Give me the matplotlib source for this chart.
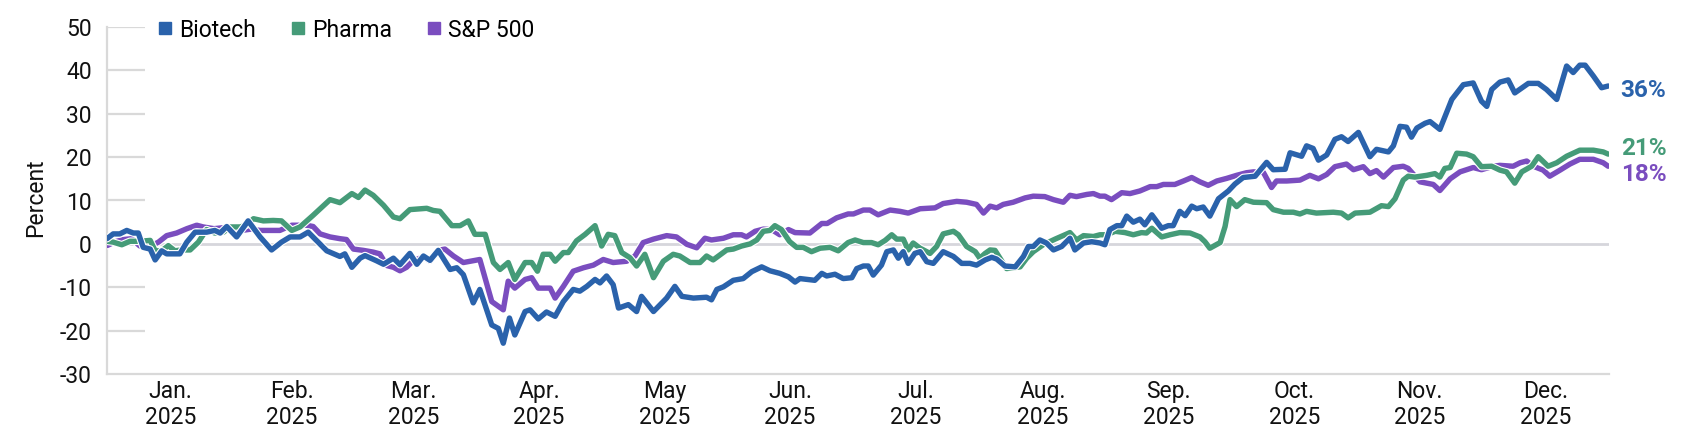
import matplotlib
matplotlib.use("Agg")
import matplotlib.pyplot as plt
import matplotlib.patheffects as pe
from matplotlib.lines import Line2D
import numpy as np
import pandas as pd

plt.rcParams['font.family'] = ['Roboto', 'DejaVu Sans']
plt.rcParams['axes.unicode_minus'] = False

# ---------------- data (day offsets from 2025-01-01, cumulative % return) -------------
bio_days = [0, 1.5, 3.1, 4.8, 6.4, 7.6, 8.8, 10.5, 11.7, 13.3, 14.5, 17.7, 19.4, 21.4, 24.2, 26.2,
            27.5, 29.1, 31.5, 34.3, 37.2, 40.0, 42.4, 44.5, 46.9, 48.9, 50.9, 53.4, 56.6, 57.8,
            59.5, 61.5, 62.7, 65.5, 67.2, 69.6, 71.2, 73.6, 75.3, 76.9, 78.5, 80.5, 83.4, 85.0,
            86.6, 89.0, 90.6, 93.5, 95.1, 96.3, 97.8, 99.1, 101.6, 102.8, 104.8, 106.8, 108.9,
            110.9, 113.3, 114.9, 116.6, 118.6, 119.8, 121.4, 123.0, 124.3, 126.7, 128.7, 129.9,
            132.8, 136.0, 138.0, 139.7, 142.5, 145.7, 146.9, 148.2, 149.8, 152.2, 154.6, 156.7,
            159.1, 161.1, 163.5, 165.6, 167.2, 168.4, 172.0, 173.7, 174.9, 176.9, 178.9, 181.0,
            182.2, 183.8, 185.0, 186.2, 188.2, 189.5, 191.1, 192.3, 193.5, 194.7, 196.3, 197.6,
            199.2, 200.8, 203.2, 205.7, 207.7, 209.7, 211.3, 213.4, 215.0, 216.2, 218.2, 220.7,
            222.7, 223.9, 225.1, 226.7, 228.3, 230.0, 232.0, 234.0, 235.2, 237.3, 239.3, 241.3,
            242.5, 243.7, 245.4, 246.6, 247.8, 249.4, 251.0, 252.2, 253.9, 256.3, 257.9, 259.1,
            260.7, 262.0, 263.6, 264.8, 266.4, 268.0, 270.1, 272.5, 274.1, 276.1, 279.0, 281.8,
            283.4, 286.3, 287.5, 290.3, 291.5, 293.1, 294.4, 296.4, 298.4, 300.0, 301.6, 304.1,
            306.9, 308.5, 311.4, 312.6, 314.2, 315.8, 317.0, 318.3, 320.3, 321.5, 323.9, 326.8,
            329.6, 332.0, 334.0, 335.3, 336.5, 338.5, 340.5, 342.1, 345.4, 347.8, 349.8, 352.3,
            354.7, 356.3, 357.9, 359.2, 361.2, 363.2, 364.8]
bio_vals = [1.2, 2.3, 2.3, 3.1, 2.5, 2.5, -0.8, -1.2, -3.7, -1.6, -2.3, -2.3, 0.4, 2.7, 2.7, 3.1,
            2.5, 4.0, 1.6, 5.3, 1.6, -1.4, 0.4, 1.6, 1.6, 2.7, 0.8, -1.6, -2.9, -2.3,
            -5.4, -3.3, -2.7, -3.9, -4.7, -3.3, -4.8, -2.2, -4.7, -2.8, -3.8, -1.5, -5.9, -5.5,
            -7.1, -13.6, -10.5, -18.7, -19.5, -22.9, -17.1, -21.0, -15.6, -15.2, -17.3, -15.7, -16.7,
            -13.3, -10.5, -10.9, -9.8, -8.2, -9.0, -7.4, -9.4, -14.8, -14.0, -15.6, -12.1,
            -15.6, -12.5, -9.8, -12.1, -12.5, -12.3, -12.9, -10.5, -9.9, -8.4, -8.0, -6.4,
            -5.3, -6.2, -6.8, -7.6, -8.8, -8.0, -8.4, -6.8, -7.4, -7.0, -8.0, -7.8,
            -5.7, -5.1, -5.1, -7.2, -4.9, -1.8, -1.4, -3.3, -1.8, -4.5, -2.2, -1.8,
            -4.1, -4.5, -1.8, -2.9, -4.5, -4.5, -4.9, -3.7, -3.1, -3.5, -5.1, -5.3,
            -2.9, -0.6, -0.6, 0.9, 0.2, -1.4, -0.6, 1.3, -1.4, 0.2, 0.5, 0.2,
            -0.2, 3.3, 4.2, 4.2, 6.4, 5.0, 5.7, 4.4, 6.7, 3.6, 4.2, 4.2,
            7.5, 6.5, 8.7, 8.1, 8.5, 6.4, 10.4, 12.2, 13.8, 15.3, 15.6, 18.8,
            17.1, 17.2, 21.0, 20.2, 22.6, 22.0, 19.3, 20.5, 24.1, 24.7, 23.6, 25.7,
            20.1, 21.8, 21.2, 22.6, 27.1, 26.9, 24.6, 26.7, 27.8, 28.2, 26.4, 33.3,
            36.7, 37.1, 32.9, 31.7, 35.6, 37.3, 37.8, 34.8, 37.0, 37.0, 35.6, 33.3,
            41.0, 39.5, 41.2, 41.2, 38.7, 36.0, 36.4]

pha_days = [0, 1.5, 3.6, 5.6, 8.0, 10.5, 11.7, 13.3, 14.9, 16.5, 18.1, 20.2, 22.2, 24.2, 26.2,
            28.3, 29.9, 32.3, 33.9, 35.6, 38.0, 40.4, 42.4, 44.9, 46.9, 50.1, 54.2, 56.6, 59.5,
            61.1, 62.7, 64.7, 67.2, 69.6, 71.2, 73.6, 77.7, 79.3, 80.9, 83.8, 85.8, 87.8, 89.4,
            91.9, 93.9, 95.5, 97.5, 99.1, 101.6, 103.2, 104.6, 106.0, 107.7, 108.9, 110.9, 112.1,
            114.1, 116.2, 118.6, 120.2, 121.8, 123.4, 125.1, 127.1, 128.7, 130.7, 132.8, 135.2,
            137.6, 139.2, 141.7, 144.1, 145.7, 147.3, 150.6, 152.2, 154.2, 156.3, 157.9, 159.5,
            161.1, 162.3, 163.9, 165.9, 167.6, 169.2, 171.2, 173.3, 175.7, 177.7, 180.1, 181.8,
            183.8, 185.8, 187.4, 189.1, 190.7, 191.9, 193.5, 194.7, 195.9, 197.6, 200.0, 201.6,
            203.2, 205.7, 206.9, 208.9, 211.0, 212.1, 213.4, 214.6, 215.8, 217.0, 218.6, 221.9,
            223.5, 225.1, 227.5, 230.4, 234.0, 235.6, 237.3, 239.7, 241.3, 242.9, 245.0, 247.4,
            249.4, 251.4, 252.6, 253.9, 256.3, 258.3, 260.7, 263.2, 265.6, 266.8, 268.0, 270.5,
            271.7, 272.9, 274.5, 276.5, 278.6, 281.8, 283.4, 285.9, 288.3, 289.9, 291.5, 293.9,
            298.0, 300.0, 301.6, 303.3, 306.9, 309.7, 311.4, 313.0, 315.0, 316.2, 317.8, 320.7,
            322.7, 323.9, 325.1, 326.4, 328.0, 330.4, 332.0, 334.0, 336.5, 338.5, 340.1, 342.1,
            343.8, 346.2, 347.8, 350.2, 352.3, 354.7, 357.9, 361.2, 363.6, 364.8]
pha_vals = [0.6, 0.4, -0.2, 0.6, 0.6, 0.8, -1.6, -1.6, -0.4, -1.6, -1.4, -1.4, 0.4, 3.3, 2.5,
            2.7, 3.9, 3.9, 4.3, 5.8, 5.3, 5.4, 5.3, 3.1, 3.9, 6.6, 10.2, 9.5, 11.6,
            10.7, 12.4, 11.2, 8.9, 6.2, 5.8, 7.9, 8.2, 7.7, 7.5, 4.2, 4.2, 5.3, 2.2,
            2.2, -4.3, -5.9, -4.3, -8.2, -4.3, -4.3, -6.3, -2.4, -2.4, -4.0, -2.0, -2.0,
            0.7, 2.2, 4.2, -0.5, 2.2, 1.9, -2.0, -3.2, -5.1, -2.4, -7.8, -4.0,
            -2.4, -2.8, -4.3, -4.3, -2.8, -3.7, -1.4, -1.2, -0.5, 0.0, 0.9, 2.9,
            3.1, 4.2, 3.3, 0.5, -0.8, -0.8, -1.8, -1.0, -0.8, -1.6, 0.3, 0.9,
            0.3, 0.3, -0.2, 0.8, 2.1, 1.1, 1.1, -1.4, 0.2, -1.0, -2.2, -0.6,
            2.3, 2.9, 2.1, -0.6, -1.8, -3.3, -2.2, -1.4, -1.5, -3.3, -5.7, -5.3,
            -3.3, -1.8, -0.2, 1.1, 2.6, 0.9, 1.9, 1.7, 2.1, 2.1, 2.9, 2.6,
            2.1, 2.6, 2.5, 3.6, 1.6, 2.1, 2.6, 2.5, 1.6, 0.5, -1.0, 0.3,
            4.0, 10.2, 8.6, 10.2, 9.6, 9.5, 7.9, 7.3, 7.3, 6.9, 7.5, 7.1,
            7.3, 7.1, 6.0, 7.1, 7.3, 8.8, 8.6, 10.4, 14.7, 15.6, 15.4, 15.8,
            16.2, 15.4, 17.4, 17.6, 20.9, 20.7, 20.1, 17.8, 17.9, 17.0, 16.6, 14.0,
            16.6, 17.9, 20.1, 17.9, 18.7, 20.2, 21.6, 21.6, 21.2, 20.7]

spx_days = [0, 2, 4, 6, 8, 10, 12.5, 14.5, 16.9, 19.4, 21.8, 23.4, 26, 29, 32, 35, 37.2, 42.0,
            44.9, 48.5, 50.1, 51.8, 54.2, 56.6, 58.2, 59.9, 62.3, 64.7, 66.3, 68.0, 69.6, 71.2,
            72.8, 74.4, 76.9, 78.5, 80.5, 82.1, 84.2, 86.6, 90.6, 93.5, 96.3, 97.5, 99.1, 101.6,
            103.2, 104.8, 107.7, 108.9, 110.9, 113.3, 115.8, 118.2, 120.6, 123.0, 126.3, 128.3,
            130.3, 132.8, 136.0, 138.4, 140.9, 143.3, 145.3, 146.9, 149.8, 152.2, 154.2, 155.4,
            157.5, 159.5, 161.5, 163.5, 165.6, 167.2, 170.8, 173.7, 175.0, 177.3, 180.1, 181.4,
            183.8, 185.4, 187.4, 190.3, 192.7, 194.7, 197.6, 201.2, 203.2, 206.5, 208.9, 211.3,
            213.0, 214.6, 216.2, 217.8, 220.2, 223.1, 225.1, 227.9, 230.0, 232.4, 234.0, 235.6,
            238.1, 239.7, 241.3, 242.5, 244.1, 246.6, 248.6, 251.0, 253.5, 255.1, 256.7, 259.5,
            261.6, 263.6, 265.6, 267.6, 269.7, 272.1, 274.5, 276.9, 278.6, 281.0, 283.0, 284.2,
            286.7, 289.9, 292.3, 294.4, 296.4, 298.4, 301.2, 302.9, 305.3, 306.9, 308.5, 310.2,
            312.6, 315.0, 316.2, 319.1, 322.3, 323.9, 326.4, 328.8, 332.0, 334.0, 336.9, 338.5,
            341.7, 343.4, 345.0, 346.6, 349.0, 350.6, 353.1, 355.5, 357.9, 361.2, 363.6, 364.8]
spx_vals = [-0.4, 0.5, 1.0, 1.2, -0.5, -0.8, 0.4, 1.9, 2.5, 3.5, 4.3, 3.9, 3.5, 3.8, 3.0, 3.4, 3.1, 3.1,
            4.3, 4.3, 4.0, 2.3, 1.6, 1.2, 1.0, -1.2, -1.5, -1.9, -2.3, -5.0, -5.4, -6.2,
            -5.4, -3.9, -3.0, -4.0, -1.5, -1.2, -2.8, -4.3, -3.6, -13.3, -15.2, -8.6, -10.2, -8.2,
            -7.8, -10.2, -10.2, -12.5, -9.8, -6.3, -5.5, -4.9, -3.6, -4.3, -4.0, -2.8,
            0.3, 1.1, 1.9, 1.6, -0.1, -0.9, 1.3, 0.9, 1.3, 2.1, 2.1, 1.6,
            2.9, 3.4, 3.3, 2.1, 3.3, 2.6, 2.5, 4.7, 4.7, 6.0, 6.9, 6.9,
            7.8, 7.8, 6.7, 7.8, 7.5, 7.1, 8.1, 8.3, 9.3, 9.8, 9.6, 9.1,
            7.1, 8.7, 8.3, 9.1, 9.6, 10.6, 11.0, 10.9, 10.2, 9.6, 11.2, 10.9,
            11.4, 11.6, 11.0, 11.0, 10.2, 11.8, 11.6, 12.2, 13.2, 13.2, 13.7, 13.7,
            14.5, 15.3, 14.3, 13.5, 14.5, 15.1, 15.8, 16.4, 16.6, 16.5, 13.0, 14.5,
            14.5, 14.7, 15.8, 15.0, 16.0, 17.8, 18.4, 17.1, 17.8, 16.2, 16.9, 15.4,
            17.6, 17.9, 17.4, 14.3, 13.7, 12.3, 15.0, 16.6, 17.6, 17.1, 17.9, 18.1,
            17.9, 18.7, 19.1, 17.9, 17.0, 15.6, 17.0, 18.4, 19.5, 19.5, 18.7, 17.9]

series_names = ["Biotech", "Pharma", "S&P 500"]
series_colors = ["#2a62ab", "#459b78", "#7a4dbf"]
month_labels = ["Jan.", "Feb.", "Mar.", "Apr.", "May", "Jun.", "Jul.", "Aug.",
                "Sep.", "Oct.", "Nov.", "Dec."]
year_label = "2025"
y_ticks = [-30, -20, -10, 0, 10, 20, 30, 40, 50]

# ---------------- figure ----------------
W, H, DPI = 1705, 444, 100
fig = plt.figure(figsize=(W / DPI, H / DPI), dpi=DPI)
ax = fig.add_axes([107 / W, 1 - 374 / H, (1609 - 107) / W, (374 - 27) / H])

base = pd.Timestamp("2025-01-01")
to_dates = lambda d: base + pd.to_timedelta(np.asarray(d, dtype=float), unit="D")

data = [(bio_days, bio_vals), (pha_days, pha_vals), (spx_days, spx_vals)]
zorders = [5, 4, 3]
lw = 3.9
for (d, v), c, z in zip(data, series_colors, zorders):
    ax.plot(to_dates(d), v, color=c, lw=lw, zorder=z, solid_joinstyle="round",
            solid_capstyle="round",
            path_effects=[pe.Stroke(linewidth=lw + 1.6, foreground="white"), pe.Normal()])

# end labels
label_offsets = [-3, 4, -6]
for (d, v), c, off in zip(data, series_colors, label_offsets):
    ax.annotate(f"{round(v[-1])}%", xy=(to_dates([d[-1]])[0], v[-1]),
                xytext=(9, off), textcoords="offset points", color=c,
                fontsize=17.5, fontweight="bold", va="center", ha="left",
                annotation_clip=False)

# axes styling
ax.set_xlim(base, base + pd.Timedelta(days=365))
ax.set_ylim(-30, 50)
ax.set_yticks(y_ticks)
ax.set_yticklabels([str(t) for t in y_ticks])

month_starts = pd.date_range("2025-01-01", periods=13, freq="MS")
mids = month_starts[:-1] + (month_starts[1:] - month_starts[:-1]) / 2
ax.set_xticks(mids)
ax.set_xticklabels([f"{m}\n{year_label}" for m in month_labels])

ax.tick_params(axis="both", length=0, labelsize=16.5, colors="#111111")
ax.tick_params(axis="y", pad=11)
ax.tick_params(axis="x", pad=4)

for s in ["top", "right"]:
    ax.spines[s].set_visible(False)
for s in ["left", "bottom"]:
    ax.spines[s].set_color("#d9d9d9")
    ax.spines[s].set_linewidth(1.6)

# short gridline stubs and the full zero line
ytr = ax.get_yaxis_transform()
stub_ticks = [t for t in y_ticks if t not in (0, -30)]
ax.hlines(stub_ticks, 0, 38 / 1502, transform=ytr, color="#d9d9d9", lw=1.6, zorder=1)
ax.axhline(0, color="#d6d6dc", lw=2.0, zorder=1)

fig.text(36 / W, 1 - 198 / H, "Percent", rotation=90, va="center", ha="center",
         fontsize=16.5, color="#111111")

handles = [Line2D([], [], ls="none", marker="s", markersize=8.5, color=c) for c in series_colors]
ax.legend(handles, series_names, loc="center left", bbox_to_anchor=(51.5 / 1502, 1 - 3 / 347),
          ncol=3, frameon=False, fontsize=16.5, handlelength=0.6, handletextpad=0.3,
          columnspacing=1.55, borderpad=0, borderaxespad=0)

fig.savefig("out.png", dpi=DPI)
